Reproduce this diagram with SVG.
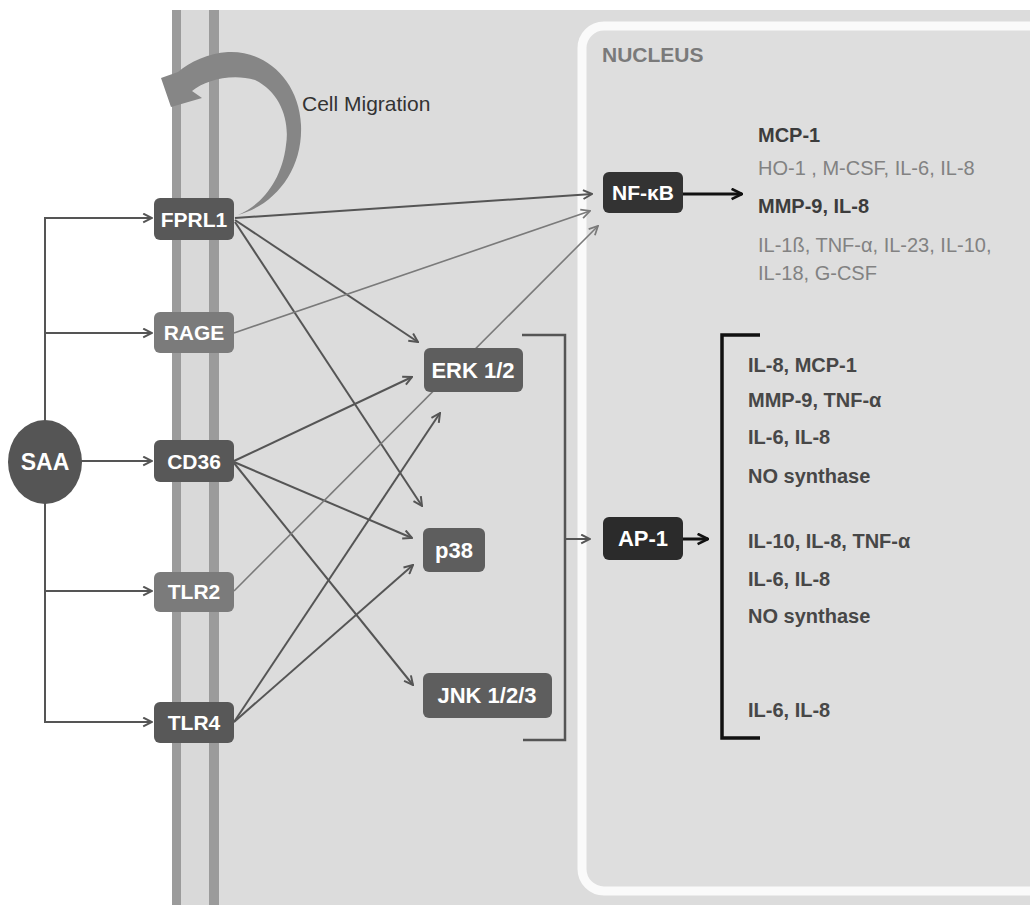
<svg xmlns="http://www.w3.org/2000/svg" width="1030" height="905" viewBox="0 0 1030 905">
<style>
.t{font-family:"Liberation Sans",Arial,sans-serif}
.node text{font-family:"Liberation Sans",Arial,sans-serif;font-weight:bold;fill:#fff;text-anchor:middle}
.dk{fill:#585858}
.lt{fill:#7b7b7b}
.c{fill:none;stroke:#555;stroke-width:2;marker-end:url(#ag)}
.cl{fill:none;stroke:#7a7a7a;stroke-width:1.6;marker-end:url(#al)}
.bold{font-weight:bold;fill:#3c3c3c}
.light{fill:#828282}
.ap{font-weight:bold;fill:#474747}
</style>
<defs>
<marker id="ag" viewBox="0 0 10 10" refX="9" refY="5" markerWidth="11" markerHeight="11" markerUnits="userSpaceOnUse" orient="auto"><path d="M1,1 L9,5 L1,9" fill="none" stroke="#555" stroke-width="1.8"/></marker>
<marker id="al" viewBox="0 0 10 10" refX="9" refY="5" markerWidth="11" markerHeight="11" markerUnits="userSpaceOnUse" orient="auto"><path d="M1,1 L9,5 L1,9" fill="none" stroke="#7a7a7a" stroke-width="1.6"/></marker>
<marker id="ab" viewBox="0 0 10 10" refX="9" refY="5" markerWidth="13" markerHeight="13" markerUnits="userSpaceOnUse" orient="auto"><path d="M1,1 L9,5 L1,9" fill="none" stroke="#111" stroke-width="2"/></marker>
</defs>
<rect width="1030" height="905" fill="#fff"/>
<!-- cytoplasm -->
<rect x="219" y="10" width="811" height="895" fill="#dcdcdc"/>
<!-- membrane -->
<rect x="172" y="10" width="47" height="895" fill="#d9d9d9"/>
<rect x="172" y="10" width="9" height="895" fill="#9b9b9b"/>
<rect x="209" y="10" width="10" height="895" fill="#9b9b9b"/>
<!-- nucleus -->
<rect x="582" y="26" width="520" height="865" rx="22" fill="#dedede" stroke="#fafafa" stroke-width="9"/>
<text class="t" x="602" y="62" font-size="21" font-weight="bold" fill="#7a7a7a">NUCLEUS</text>
<!-- cell migration arrow -->
<path d="M238 215 C275 205,303 170,301 125 C299 80,265 50,228 52 C208 53,190 62,178 72 L161 78 L171 107 L202 98 L192 91 C205 80,232 73,255 80 C280 92,290 120,286 145 C282 180,262 205,238 215 Z" fill="#868686"/>
<text class="t" x="302" y="111" font-size="21" fill="#333">Cell Migration</text>
<g id="connectors">
<path d="M45 218 V722" fill="none" stroke="#555" stroke-width="2"/>
<path class="c" d="M44 218 H152"/>
<path class="c" d="M45 333 H152"/>
<path class="c" d="M45 461 H152"/>
<path class="c" d="M45 591 H152"/>
<path class="c" d="M44 722 H152"/>
<path class="c" d="M235 218 L592 194"/>
<path class="c" d="M235 220 L418 342"/>
<path class="c" d="M235 222 L422 506"/>
<path class="cl" d="M234 333 L590 211"/>
<path class="c" d="M234 461 L412 377"/>
<path class="c" d="M234 462 L412 538"/>
<path class="c" d="M234 463 L413 685"/>
<path class="cl" d="M234 591 L598 226"/>
<path class="c" d="M234 722 L440 413"/>
<path class="c" d="M234 722 L413 565"/>
<path d="M522 335 H565 V740 H523" fill="none" stroke="#555" stroke-width="2.5"/>
<path class="c" d="M565 539 H590"/>
<path d="M683 194 H742" fill="none" stroke="#111" stroke-width="3" marker-end="url(#ab)"/>
<path d="M683 539 H708" fill="none" stroke="#111" stroke-width="3" marker-end="url(#ab)"/>
<path d="M760 335 H722 V738 H760" fill="none" stroke="#111" stroke-width="3.5"/>
</g>
<g id="SAA" class="node"><ellipse cx="45" cy="462" rx="37" ry="42" fill="#555"/><text x="45" y="470" font-size="23">SAA</text></g>
<g id="FPRL1" class="node"><rect class="dk" x="154" y="198" width="80" height="42" rx="6"/><text x="194" y="227" font-size="21">FPRL1</text></g>
<g id="RAGE" class="node"><rect class="lt" x="154" y="312" width="80" height="41" rx="6"/><text x="194" y="340" font-size="21">RAGE</text></g>
<g id="CD36" class="node"><rect class="dk" x="154" y="440" width="80" height="42" rx="6"/><text x="194" y="469" font-size="21">CD36</text></g>
<g id="TLR2" class="node"><rect class="lt" x="154" y="572" width="80" height="40" rx="6"/><text x="194" y="599" font-size="21">TLR2</text></g>
<g id="TLR4" class="node"><rect class="dk" x="154" y="702" width="80" height="41" rx="6"/><text x="194" y="730" font-size="21">TLR4</text></g>
<g id="ERK" class="node"><rect fill="#5e5e5e" x="424" y="348" width="99" height="44" rx="6"/><text x="473" y="378" font-size="22">ERK 1/2</text></g>
<g id="p38" class="node"><rect fill="#5e5e5e" x="423" y="528" width="62" height="44" rx="6"/><text x="454" y="558" font-size="22">p38</text></g>
<g id="JNK" class="node"><rect fill="#5e5e5e" x="423" y="673" width="129" height="45" rx="6"/><text x="487" y="703" font-size="22">JNK 1/2/3</text></g>
<g id="NFkB" class="node"><rect fill="#333" x="603" y="172" width="80" height="41" rx="6"/><text x="643" y="200" font-size="21">NF-κB</text></g>
<g id="AP1" class="node"><rect fill="#2b2b2b" x="603" y="517" width="80" height="43" rx="6"/><text x="643" y="546" font-size="22">AP-1</text></g>
<g id="nfkb-targets" class="t" font-size="20">
<text class="bold" x="758" y="142">MCP-1</text>
<text class="light" x="758" y="175">HO-1 , M-CSF, IL-6, IL-8</text>
<text class="bold" x="758" y="213">MMP-9, IL-8</text>
<text class="light" x="758" y="252">IL-1ß, TNF-α, IL-23, IL-10,</text>
<text class="light" x="758" y="280">IL-18, G-CSF</text>
</g>
<g id="ap1-targets" class="t" font-size="20">
<text class="ap" x="748" y="372">IL-8, MCP-1</text>
<text class="ap" x="748" y="407">MMP-9, TNF-α</text>
<text class="ap" x="748" y="444">IL-6, IL-8</text>
<text class="ap" x="748" y="483">NO synthase</text>
<text class="ap" x="748" y="548">IL-10, IL-8, TNF-α</text>
<text class="ap" x="748" y="586">IL-6, IL-8</text>
<text class="ap" x="748" y="623">NO synthase</text>
<text class="ap" x="748" y="717">IL-6, IL-8</text>
</g>
</svg>
